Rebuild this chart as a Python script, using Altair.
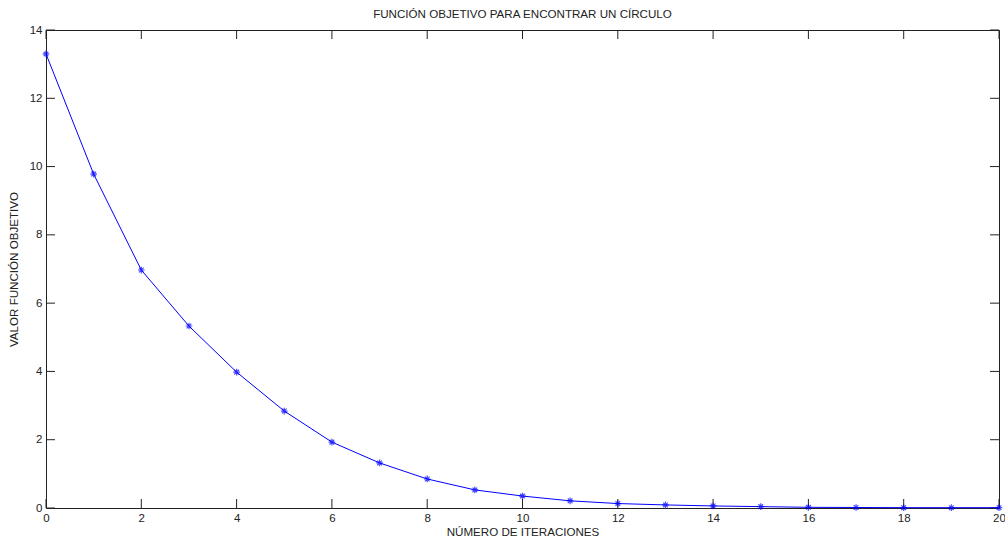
import altair as alt
import pandas as pd

iterations = list(range(21))
values = [13.30, 9.78, 6.97, 5.33, 3.98, 2.84, 1.93, 1.32, 0.85, 0.53, 0.35,
          0.21, 0.13, 0.09, 0.06, 0.04, 0.02, 0.015, 0.01, 0.01, 0.01]
x_ticks = list(range(0, 21, 2))
y_ticks = list(range(0, 15, 2))

W, H = 953, 478
FONT = "Liberation Sans"

df = pd.DataFrame({"it": iterations, "val": values})
xt = pd.DataFrame({"t": x_ticks})
yt = pd.DataFrame({"t": y_ticks})

xscale = alt.Scale(domain=[0, 20], nice=False)
yscale = alt.Scale(domain=[0, 14], nice=False)

xaxis = alt.Axis(values=x_ticks, ticks=False, domain=False, grid=False, labelPadding=4,
                 labelFlush=False, labelOverlap=False,
                 labelFont=FONT, labelFontSize=11.5, labelColor="#222",
                 title="NÚMERO DE ITERACIONES", titleFont=FONT, titleFontSize=11.6,
                 titleFontWeight="normal", titleColor="#222", titlePadding=3)
yaxis = alt.Axis(values=y_ticks, ticks=False, domain=False, grid=False, labelPadding=4,
                 labelFlush=False, labelOverlap=False,
                 labelFont=FONT, labelFontSize=11.5, labelColor="#222",
                 title="VALOR FUNCIÓN OBJETIVO", titleFont=FONT, titleFontSize=11.6,
                 titleFontWeight="normal", titleColor="#222", titlePadding=10)

line = alt.Chart(df).mark_line(color="#0000ff", strokeWidth=1).encode(
    x=alt.X("it:Q", scale=xscale, axis=xaxis),
    y=alt.Y("val:Q", scale=yscale, axis=yaxis),
)
star = "M-1,0L1,0M0,-1L0,1M-0.7,-0.7L0.7,0.7M-0.7,0.7L0.7,-0.7"
pts = alt.Chart(df).mark_point(shape=star, color="#0000ff", filled=False,
                               strokeWidth=1.2, size=45).encode(
    x=alt.X("it:Q", scale=xscale), y=alt.Y("val:Q", scale=yscale))

tk = 9
bt = alt.Chart(xt).mark_rule(color="#222").encode(
    x=alt.X("t:Q", scale=xscale), y=alt.value(H), y2=alt.value(H - tk))
tt = alt.Chart(xt).mark_rule(color="#222").encode(
    x=alt.X("t:Q", scale=xscale), y=alt.value(0), y2=alt.value(tk))
lt = alt.Chart(yt).mark_rule(color="#222").encode(
    y=alt.Y("t:Q", scale=yscale), x=alt.value(0), x2=alt.value(tk))
rt = alt.Chart(yt).mark_rule(color="#222").encode(
    y=alt.Y("t:Q", scale=yscale), x=alt.value(W), x2=alt.value(W - tk))

chart = alt.layer(bt, tt, lt, rt, line, pts).properties(
    width=W, height=H,
    title=alt.TitleParams("FUNCIÓN OBJETIVO PARA ENCONTRAR UN CÍRCULO",
                          font=FONT, fontSize=11.6, fontWeight="normal", color="#222",
                          anchor="middle", offset=3),
    autosize=alt.AutoSizeParams(type="none"),
    padding={"left": 46, "top": 30, "right": 6, "bottom": 31},
    background="white",
).configure_view(stroke="#222", strokeWidth=1)

chart.save("out.html", embed_options={"renderer": "svg", "actions": False})
